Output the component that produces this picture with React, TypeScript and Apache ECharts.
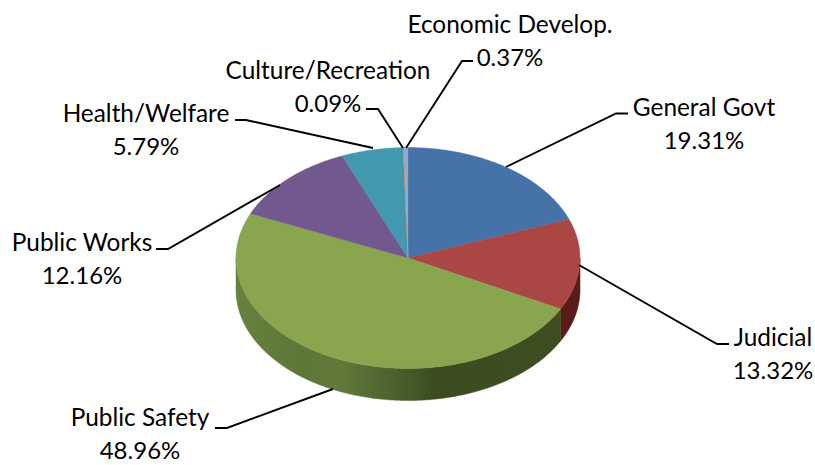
import React, { useEffect, useRef } from "react";
import * as echarts from "echarts";

const categories = ["General Govt", "Judicial", "Public Safety", "Public Works", "Health/Welfare", "Culture/Recreation", "Economic Develop."];
const shares = [19.31, 13.32, 48.96, 12.16, 5.79, 0.09, 0.37];
const sliceColors = ["#4573A7", "#AA4643", "#89A54E", "#71588F", "#4198AF", "#DB843D", "#93A9CF"];
const sideColors = ["#2A4464", "#5A1B19", "#3E4E20", "#43345A", "#275B68", "#82501F", "#58657C"];

const CX = 408;
const CY = 258;
const RX = 172;
const RY = 110.5;
const DEPTH = 32;
const LINE_GAP = 16.5;

const labelAnchors = [
  { x: 704, y: 123 },
  { x: 773, y: 353 },
  { x: 140, y: 433 },
  { x: 82, y: 258 },
  { x: 146, y: 129 },
  { x: 328, y: 86 },
  { x: 510, y: 40 },
];
const leaders = [
  [[506, 167], [616, 113.5], [628, 113.5]],
  [[579, 265], [717, 344], [729, 344]],
  [[333, 389], [227, 428], [215, 428]],
  [[280, 185], [168, 249], [156, 249]],
  [[373, 148], [246, 120], [235, 120]],
  [[403, 148], [378, 109], [366, 109]],
  [[406, 148], [462, 61], [473, 61]],
];

const total = shares.reduce((a, b) => a + b, 0);
const startAngle = (i: number) => (shares.slice(0, i).reduce((a, b) => a + b, 0) / total) * 360;
const point = (deg: number, dy = 0): number[] => {
  const r = (deg * Math.PI) / 180;
  return [CX + RX * Math.sin(r), CY - RY * Math.cos(r) + dy];
};
const arc = (a: number, b: number, dy = 0): number[][] => {
  const n = Math.max(2, Math.ceil((b - a) / 0.5));
  const pts: number[][] = [];
  for (let k = 0; k <= n; k++) pts.push(point(a + ((b - a) * k) / n, dy));
  return pts;
};

const greenSide = new echarts.graphic.LinearGradient(CX - RX, 0, CX + RX, 0, [
  { offset: 0, color: "#67823E" },
  { offset: 0.18, color: "#5D7737" },
  { offset: 0.3, color: "#617A3B" },
  { offset: 0.47, color: "#4B602D" },
  { offset: 0.58, color: "#3B4C21" },
  { offset: 1, color: "#3E4E20" },
], true);

function renderSide(params: any) {
  const i = params.dataIndex;
  const a = Math.max(startAngle(i), 90);
  const b = Math.min(startAngle(i + 1), 270);
  if (b <= a) return { type: "group", children: [] };
  const points = [...arc(a, b), ...arc(a, b, DEPTH).reverse()];
  return {
    type: "polygon",
    shape: { points },
    style: { fill: i === 2 ? greenSide : sideColors[i], stroke: i === 2 ? greenSide : sideColors[i], lineWidth: 0.5 },
  };
}

function renderTop(params: any) {
  const i = params.dataIndex;
  const points = [[CX, CY], ...arc(startAngle(i), startAngle(i + 1))];
  return {
    type: "polygon",
    shape: { points },
    style: { fill: sliceColors[i], stroke: sliceColors[i], lineWidth: 0.4 },
  };
}

const labelText = (text: string, x: number, y: number, fontSize: number) => ({
  type: "text",
  z: 6,
  x,
  y,
  style: { text, fontFamily: "Lato", fontSize, fill: "#000000", align: "center", verticalAlign: "middle" },
});

export default function App() {
  const ref = useRef<HTMLDivElement>(null);
  useEffect(() => {
    const chart = echarts.init(ref.current!, undefined, { renderer: "svg" });
    const pieData = shares.map((v, i) => ({ name: categories[i], value: v }));
    chart.setOption({
      animation: false,
      backgroundColor: "#FFFFFF",
      series: [
        { type: "custom", coordinateSystem: "none", renderItem: renderSide, data: pieData, silent: true, z: 1 },
        { type: "custom", coordinateSystem: "none", renderItem: renderTop, data: pieData, silent: true, z: 2 },
      ],
      graphic: [
        ...leaders.map((pts) => ({
          type: "polyline",
          z: 5,
          shape: { points: pts },
          style: { stroke: "#000000", lineWidth: 1.9, fill: "none" },
        })),
        ...categories.flatMap((c, i) => [
          labelText(c, labelAnchors[i].x, labelAnchors[i].y - LINE_GAP, 24.4),
          labelText(`${shares[i].toFixed(2)}%`, labelAnchors[i].x, labelAnchors[i].y + LINE_GAP, 24),
        ]),
      ],
    });
    return () => chart.dispose();
  }, []);
  return <div ref={ref} style={{ position: "absolute", left: 0, top: 0, width: 815, height: 465 }} />;
}
